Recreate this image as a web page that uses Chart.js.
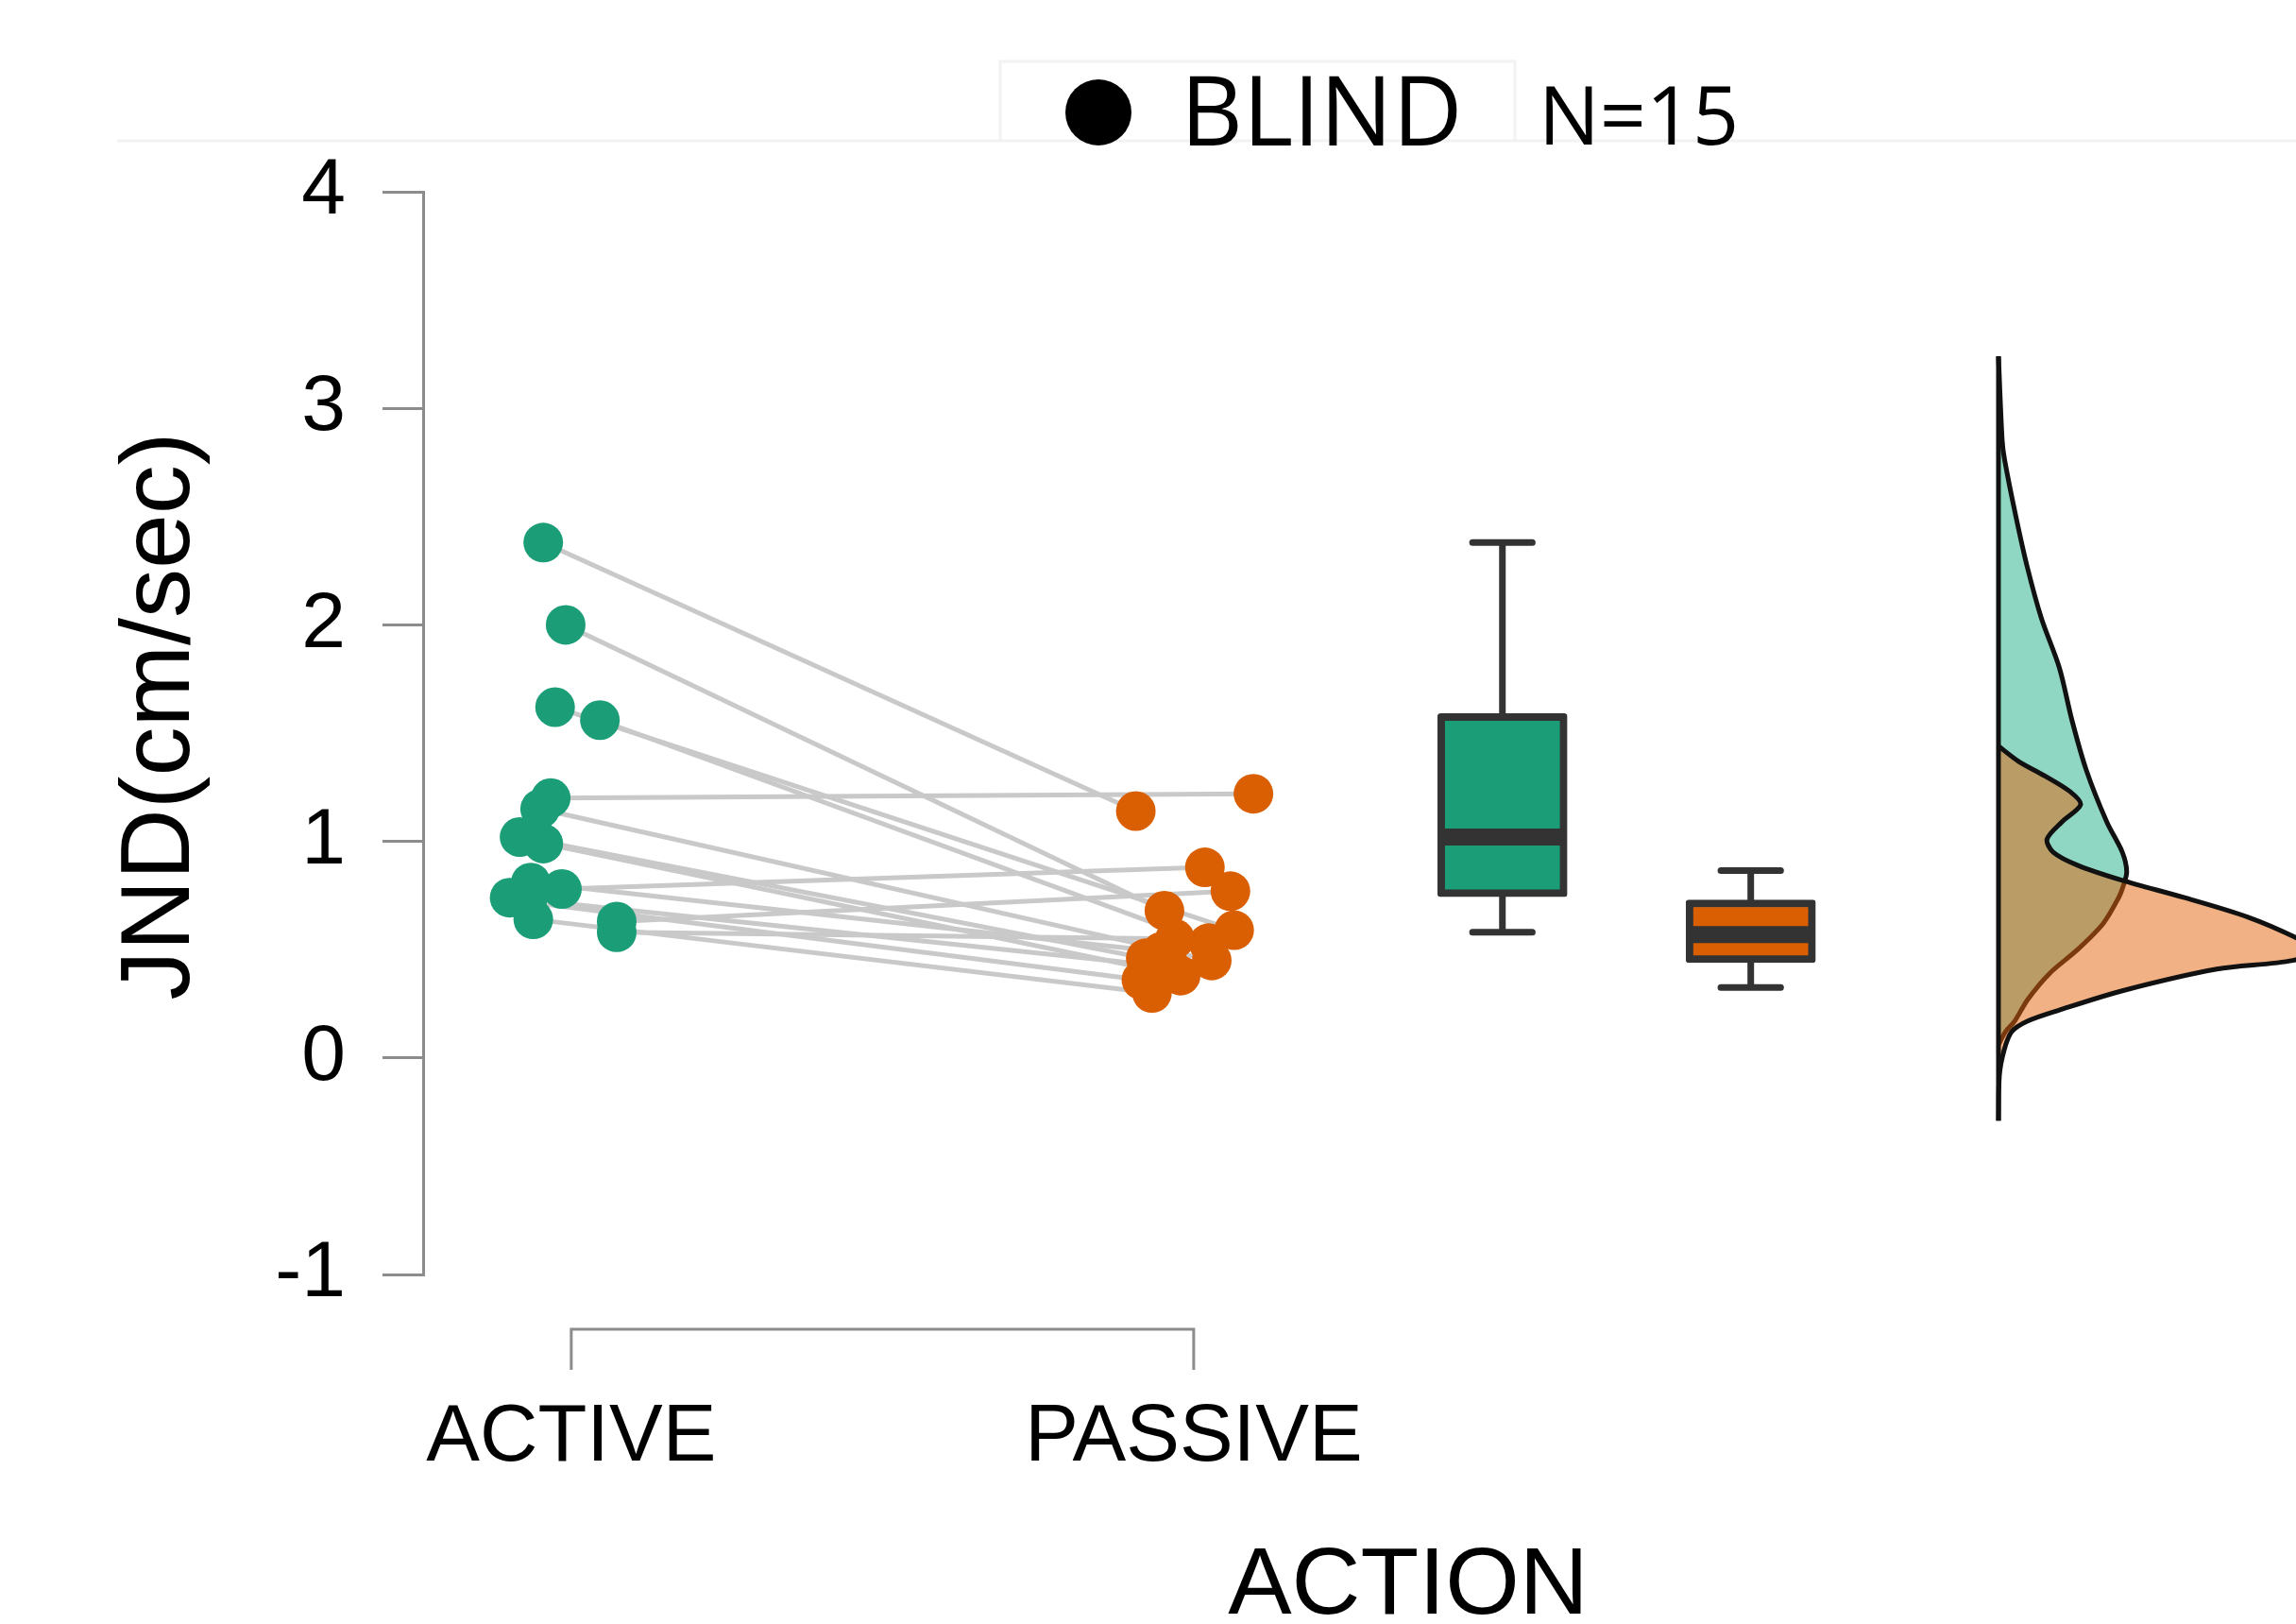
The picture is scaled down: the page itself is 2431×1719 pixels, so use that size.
<!DOCTYPE html>
<html>
<head>
<meta charset="utf-8">
<script src="https://cdn.jsdelivr.net/npm/chart.js@4/dist/chart.umd.min.js"></script>
<style>
  html, body { margin: 0; padding: 0; background: #ffffff; }
  #wrap { width: 2431px; height: 1719px; }
  canvas { display: block; }
</style>
</head>
<body>
<div id="wrap"><canvas id="c" width="2431" height="1719" style="width:2431px;height:1719px"></canvas></div>
<script>
// ---------- data ----------
const categories = ['ACTIVE', 'PASSIVE'];
const categoryX = [1, 2];
const yTickValues = [-1, 0, 1, 2, 3, 4];
const xTitle = 'ACTION';
const yTitle = 'JND(cm/sec)';
const legendLabel = 'BLIND';
const legendNote = 'N=15';

// paired participants: activeValues[i] <-> passiveValues[i]
const activeValues = [2.38, 2.00, 1.62, 1.56, 1.20, 1.15, 1.02, 0.99, 0.81, 0.78, 0.74, 0.72, 0.64, 0.63, 0.58];
const activeJitterX = [0.955, 0.991, 0.974, 1.046, 0.967, 0.950, 0.917, 0.955, 0.935, 0.985, 0.901, 0.929, 0.939, 1.073, 1.073];
const passiveValues = [1.14, 0.68, 0.59, 0.53, 1.22, 0.45, 0.46, 0.38, 0.49, 0.88, 0.42, 0.36, 0.30, 0.77, 0.55];
const passiveJitterX = [1.907, 1.953, 2.065, 2.024, 2.096, 2.029, 1.923, 1.979, 1.948, 2.018, 1.962, 1.916, 1.933, 2.059, 1.970];

// box plot stats: [min, q1, median, q3, max]
const activeBox = [0.58, 0.744, 1.02, 1.59, 2.38];
const passiveBox = [0.325, 0.44, 0.57, 0.73, 0.865];

// half-violin densities (value on y, density height in x-axis units)
const activeDensY = [3.24, 2.85, 2.76, 2.50, 2.27, 2.03, 1.80, 1.56, 1.33, 1.09, 0.95, 0.86, 0.79, 0.74, 0.62, 0.50, 0.39, 0.27, 0.17, 0.12, 0.06];
const activeDensW = [0, 0.006, 0.010, 0.028, 0.046, 0.069, 0.098, 0.118, 0.141, 0.174, 0.199, 0.206, 0.200, 0.193, 0.168, 0.127, 0.082, 0.047, 0.026, 0.011, 0];
const passiveDensY = [1.44, 1.37, 1.30, 1.23, 1.17, 1.09, 1.01, 0.95, 0.89, 0.82, 0.74, 0.65, 0.555, 0.50, 0.45, 0.41, 0.31, 0.22, 0.17, 0.12, 0.035, -0.08, -0.29];
const passiveDensW = [0, 0.032, 0.076, 0.115, 0.132, 0.102, 0.078, 0.088, 0.127, 0.199, 0.299, 0.401, 0.478, 0.508, 0.473, 0.351, 0.199, 0.097, 0.047, 0.021, 0.009, 0.0015, 0];
const densityRange = [3.24, -0.29];

// ---------- layout constants ----------
const GREEN = '#1b9e77';
const ORANGE = '#d95f02';
const DARK = '#333333';
const AXIS_GRAY = '#8c8c8c';
const BOX_X = [2.496, 2.895];
const DENS_BASE = 3.293;
const BOX_HALF = 0.098;
const CAP_HALF = 0.048;

// ---------- datasets ----------
const datasets = [];

datasets.push({
  label: 'active', type: 'scatter',
  data: activeValues.map((v, i) => ({ x: activeJitterX[i], y: v })),
  backgroundColor: GREEN, borderColor: GREEN, pointRadius: 21, pointBorderWidth: 0,
  showLine: false, order: 0
});
datasets.push({
  label: 'passive', type: 'scatter',
  data: passiveValues.map((v, i) => ({ x: passiveJitterX[i], y: v })),
  backgroundColor: ORANGE, borderColor: ORANGE, pointRadius: 21, pointBorderWidth: 0,
  showLine: false, order: 1
});

// paired lines
activeValues.forEach((v, i) => {
  datasets.push({
    type: 'scatter', showLine: true,
    data: [{ x: activeJitterX[i], y: v }, { x: passiveJitterX[i], y: passiveValues[i] }],
    borderColor: '#c9c9c9', borderWidth: 5, pointRadius: 0, order: 30
  });
});

// box plots
function whiskerData(c, s) {
  return [
    { x: c, y: s[0] }, { x: c, y: s[1] }, { x: c, y: null },
    { x: c, y: s[3] }, { x: c, y: s[4] }, { x: c, y: null },
    { x: c - CAP_HALF, y: s[4] }, { x: c + CAP_HALF, y: s[4] }, { x: c, y: null },
    { x: c - CAP_HALF, y: s[0] }, { x: c + CAP_HALF, y: s[0] }
  ];
}
[activeBox, passiveBox].forEach((s, k) => {
  datasets.push({
    type: 'scatter', showLine: true, spanGaps: false,
    data: whiskerData(BOX_X[k], s),
    borderColor: DARK, borderWidth: 7, pointRadius: 0, borderCapStyle: 'round', order: 22
  });
});
datasets.push({
  type: 'bar',
  data: [
    { x: BOX_X[0], y: [activeBox[1], activeBox[3]] },
    { x: BOX_X[1], y: [passiveBox[1], passiveBox[3]] }
  ],
  backgroundColor: [GREEN, ORANGE], borderColor: DARK, borderWidth: 8,
  borderSkipped: false, borderRadius: 3, barThickness: 137, grouped: false, order: 21
});
[activeBox, passiveBox].forEach((s, k) => {
  datasets.push({
    type: 'scatter', showLine: true,
    data: [{ x: BOX_X[k] - BOX_HALF, y: s[2] }, { x: BOX_X[k] + BOX_HALF, y: s[2] }],
    borderColor: DARK, borderWidth: 18, pointRadius: 0, order: 20
  });
});

// half violins
function densData(ys, ws) {
  return ys.map((y, i) => ({ x: DENS_BASE + ws[i], y: y }));
}
datasets.push({
  type: 'scatter', showLine: true, tension: 0.3,
  data: densData(activeDensY, activeDensW),
  borderColor: '#111111', borderWidth: 5, pointRadius: 0,
  fill: 'shape', backgroundColor: 'rgba(32,176,136,0.5)', order: 50
});
datasets.push({
  type: 'scatter', showLine: true, tension: 0.3,
  data: densData(passiveDensY, passiveDensW),
  borderColor: '#111111', borderWidth: 5, pointRadius: 0,
  fill: 'shape', backgroundColor: 'rgba(230,100,10,0.5)', order: 49
});
datasets.push({
  type: 'scatter', showLine: true,
  data: [{ x: DENS_BASE, y: densityRange[0] }, { x: DENS_BASE, y: densityRange[1] }],
  borderColor: '#111111', borderWidth: 5, pointRadius: 0, order: 48
});

// ---------- decorations plugin ----------
const decor = {
  id: 'decor',
  beforeDraw(chart) {
    const ctx = chart.ctx;
    ctx.save();
    ctx.fillStyle = '#ffffff';
    ctx.fillRect(0, 0, chart.width, chart.height);
    ctx.strokeStyle = '#f2f2f2';
    ctx.lineWidth = 3;
    ctx.beginPath();
    ctx.moveTo(124, 149); ctx.lineTo(1059, 149);
    ctx.moveTo(1604, 149); ctx.lineTo(2431, 149);
    ctx.stroke();
    ctx.strokeRect(1059, 65, 545, 84);
    ctx.restore();
  },
  afterDraw(chart) {
    const ctx = chart.ctx;
    const xs = chart.scales.x;
    const area = chart.chartArea;
    ctx.save();
    // R-style x axis bracket
    const x1 = xs.getPixelForValue(categoryX[0]);
    const x2 = xs.getPixelForValue(categoryX[1]);
    const by = area.bottom + 58;
    ctx.strokeStyle = AXIS_GRAY;
    ctx.lineWidth = 3;
    ctx.beginPath();
    ctx.moveTo(x1, by + 43); ctx.lineTo(x1, by); ctx.lineTo(x2, by); ctx.lineTo(x2, by + 43);
    ctx.stroke();
    // x title
    ctx.fillStyle = '#000000';
    ctx.font = '101px "Liberation Sans", Arial, sans-serif';
    ctx.textAlign = 'center';
    ctx.textBaseline = 'alphabetic';
    ctx.fillText(xTitle, 1491, 1708);
    // y title
    ctx.save();
    ctx.translate(200, 758);
    ctx.rotate(-Math.PI / 2);
    ctx.font = '104px "Liberation Sans", Arial, sans-serif';
    ctx.textAlign = 'center';
    ctx.fillText(yTitle, 0, 0);
    ctx.restore();
    // legend
    ctx.beginPath();
    ctx.arc(1163, 119, 35, 0, Math.PI * 2);
    ctx.fillStyle = '#000000';
    ctx.fill();
    ctx.textAlign = 'left';
    ctx.font = '102px "Open Sans", "Liberation Sans", sans-serif';
    ctx.fillText(legendLabel, 1250, 154);
    ctx.font = '86px "Open Sans", "Liberation Sans", sans-serif';
    ctx.fillText(legendNote, 1629, 153);
    ctx.restore();
  }
};

// ---------- chart ----------
new Chart(document.getElementById('c'), {
  type: 'scatter',
  data: { datasets },
  options: {
    responsive: false,
    devicePixelRatio: 1,
    animation: false,
    events: [],
    layout: { autoPadding: false, padding: { left: 0, top: 203, right: 0, bottom: 0 } },
    plugins: {
      legend: { display: false },
      tooltip: { enabled: false },
      title: { display: false }
    },
    scales: {
      x: {
        type: 'linear',
        min: 0.762, max: 3.771,
        offset: false,
        afterBuildTicks(scale) { scale.ticks = categoryX.map(v => ({ value: v })); },
        afterFit(scale) { scale.height = 370; scale.paddingLeft = 0; scale.paddingRight = 0; },
        ticks: {
          callback(value) { const i = categoryX.indexOf(value); return i >= 0 ? categories[i] : ''; },
          font: { family: '"Liberation Sans", Arial, sans-serif', size: 85 },
          color: '#000000',
          padding: 123,
          maxRotation: 0, minRotation: 0, autoSkip: false
        },
        grid: { display: false, drawTicks: false, offset: false },
        border: { display: false }
      },
      y: {
        type: 'linear',
        min: -1, max: 4,
        afterBuildTicks(scale) { scale.ticks = yTickValues.map(v => ({ value: v })); },
        afterFit(scale) { scale.width = 448; },
        ticks: {
          font: { family: '"Liberation Sans", Arial, sans-serif', size: 84 },
          color: '#000000',
          padding: 39
        },
        grid: { display: true, drawOnChartArea: false, drawTicks: true, tickLength: 43, color: AXIS_GRAY, lineWidth: 3 },
        border: { display: true, color: AXIS_GRAY, width: 3 }
      }
    }
  },
  plugins: [decor]
});
</script>
</body>
</html>
